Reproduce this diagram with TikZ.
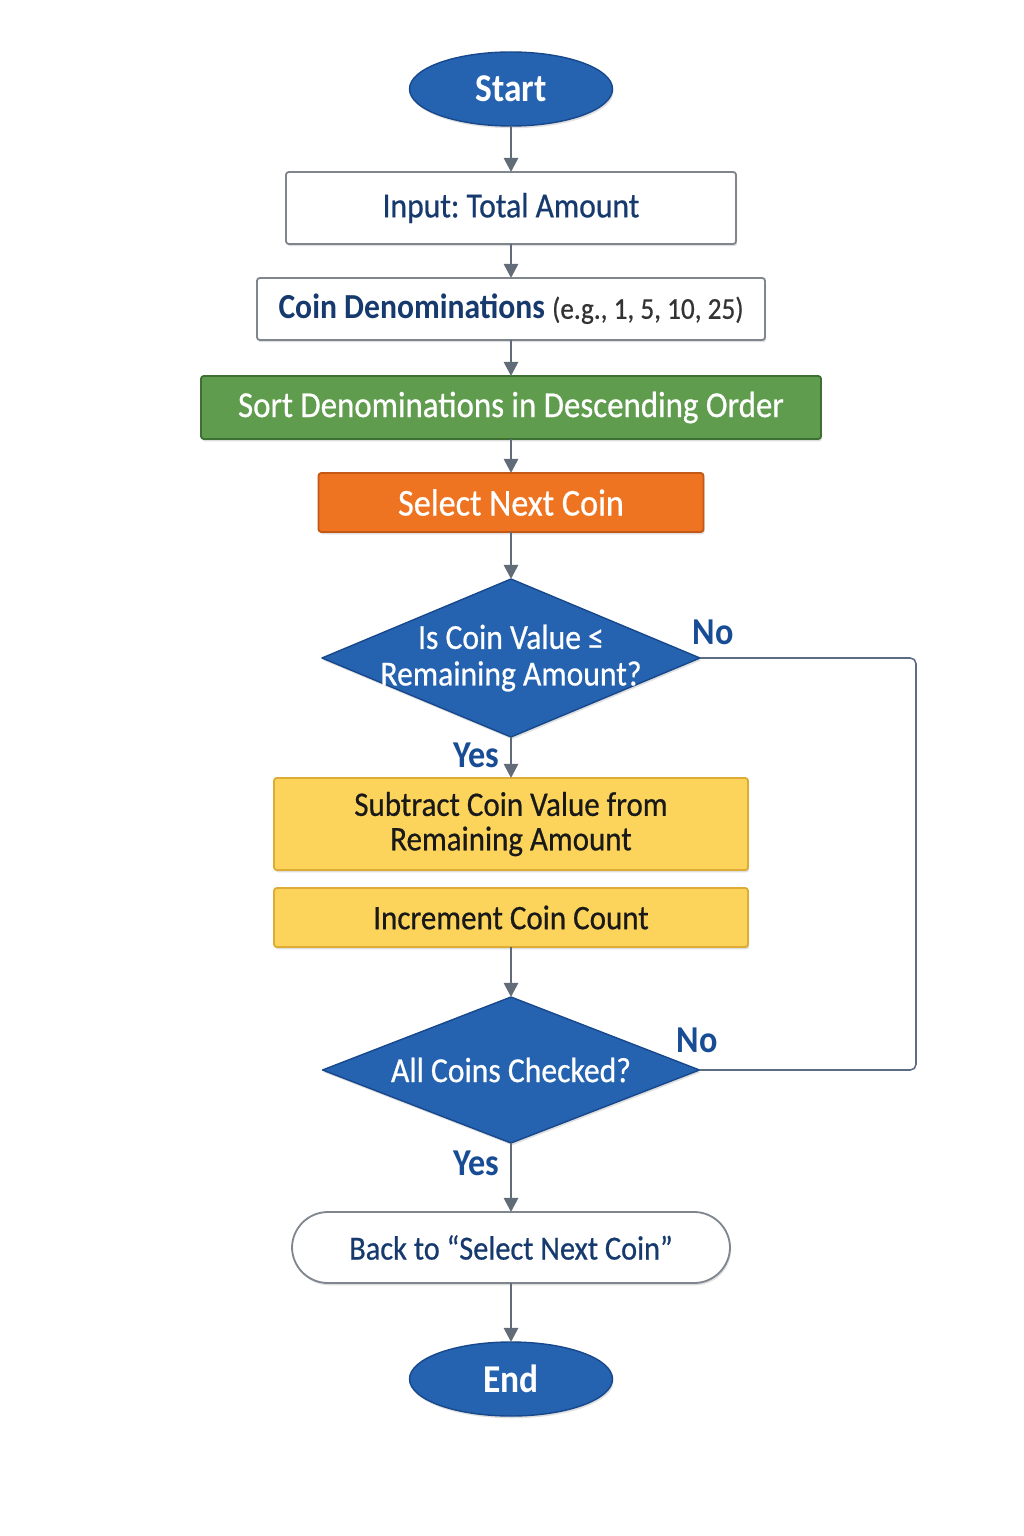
\documentclass[tikz,border=0pt]{standalone}
\usepackage{fontspec}
\setmainfont{Carlito}[FakeStretch=0.9, UprightFeatures={FakeBold=0.6}]
\usetikzlibrary{arrows.meta,shapes.geometric,shadows}

% Palette.
\definecolor{flowblue}{RGB}{37,99,176}
\definecolor{flowblueedge}{RGB}{24,72,140}
\definecolor{inktext}{RGB}{22,58,110}
\definecolor{labelblue}{RGB}{24,76,148}
\definecolor{sortgreen}{RGB}{96,156,78}
\definecolor{sortgreenedge}{RGB}{62,112,52}
\definecolor{pickorange}{RGB}{238,116,34}
\definecolor{pickorangeedge}{RGB}{196,88,22}
\definecolor{stepyellow}{RGB}{252,212,92}
\definecolor{stepyellowedge}{RGB}{222,172,52}
\definecolor{linegray}{RGB}{98,108,120}
\definecolor{boxgray}{RGB}{128,134,142}
\definecolor{loopgray}{RGB}{92,108,132}

% One drawing unit, used for node sizes.
\def\unitpx{0.025cm}

\begin{document}
\frenchspacing
\begin{tikzpicture}[x=0.025cm, y=-0.025cm, line join=round,
  every node/.style={font=\fontsize{25}{25}\selectfont, align=center, inner sep=0pt, outer sep=0pt},
  boxsize/.style 2 args={minimum width=#1*\unitpx, minimum height=#2*\unitpx},
  softshadow/.style={drop shadow={shadow xshift=0.8pt, shadow yshift=-1.6pt, opacity=0.25}},
  flow/.style={draw=linegray, line width=1.9pt, -{Triangle[length=10pt,width=10pt]}},
  loopline/.style={draw=loopgray, line width=1.1pt, rounded corners=4pt},
  terminal/.style={ellipse, fill=flowblue, draw=flowblueedge, line width=1pt, text=white,
    font=\fontsize{28}{28}\selectfont\bfseries, softshadow},
  iobox/.style={rectangle, rounded corners=2pt, fill=white, draw=boxgray, line width=1.3pt,
    text=inktext, softshadow},
  sortbox/.style={rectangle, rounded corners=2pt, fill=sortgreen, draw=sortgreenedge,
    line width=1.3pt, text=white, font=\fontsize{26}{26}\selectfont, softshadow},
  pickbox/.style={rectangle, rounded corners=2pt, fill=pickorange, draw=pickorangeedge,
    line width=1.3pt, text=white, font=\fontsize{27}{27}\selectfont, softshadow},
  stepbox/.style={rectangle, rounded corners=2pt, fill=stepyellow, draw=stepyellowedge,
    line width=1.3pt, text=black!90, font=\fontsize{24.5}{24.5}\selectfont, softshadow},
  decision/.style={diamond, aspect=2.4, inner sep=-20pt, fill=flowblue, draw=flowblueedge,
    line width=1pt, text=white, softshadow},
  yesno/.style={text=labelblue, font=\fontsize{27}{27}\selectfont\bfseries},
]
  % Page.
  \fill[white] (0,0) rectangle (1024,1536);
  \useasboundingbox (0,0) rectangle (1024,1536);

  % Main column of steps.
  \node[terminal, boxsize={203}{74}] (start) at (511,89) {Start};
  \node[iobox, boxsize={450}{72}] (input) at (511,208) {Input: Total Amount};
  \node[iobox, boxsize={508}{62}] (denoms) at (511,309)
    {{\bfseries Coin Denominations} {\color{black!80}\fontsize{21.5}{21.5}\selectfont (e.g., 1, 5, 10, 25)}};
  \node[sortbox, boxsize={620}{63}] (sortd) at (511,407.5) {Sort Denominations in Descending Order};
  \node[pickbox, boxsize={385}{59}] (select) at (511,502.5) {Select Next Coin};
  \node[decision, boxsize={378}{158}] (check) at (511,658) {Is Coin Value ≤\\[1pt]Remaining Amount?};
  \node[stepbox, boxsize={474}{92}] (subtract) at (511,824) {\strut Subtract Coin Value from\\Remaining Amount};
  \node[stepbox, boxsize={474}{59}] (increment) at (511,917.5) {Increment Coin Count};
  \node[decision, boxsize={377}{146}] (alldone) at (511,1070) {All Coins Checked?};
  \node[iobox, rounded corners=36*\unitpx, boxsize={438}{71}, font=\fontsize{24}{24}\selectfont]
    (back) at (511,1247.5) {Back to “Select Next Coin”};
  \node[terminal, boxsize={203}{74}] (stop) at (511,1379) {End};

  % Branch labels.
  \node[yesno] (nocheck) at (713,632) {No};
  \node[yesno] (yescheck) at (476,755) {Yes};
  \node[yesno] (nodone) at (697,1040) {No};
  \node[yesno] (yesdone) at (476,1163) {Yes};

  % Arrows down the column.
  \draw[flow] (start.south) -- (input.north);
  \draw[flow] (input.south) -- (denoms.north);
  \draw[flow] (denoms.south) -- (sortd.north);
  \draw[flow] (sortd.south) -- (select.north);
  \draw[flow] (select.south) -- (check.north);
  \draw[flow] (check.south) -- (subtract.north);
  \draw[flow] (increment.south) -- (alldone.north);
  \draw[flow] (alldone.south) -- (back.north);
  \draw[flow] (back.south) -- (stop.north);

  % The two "No" exits joined along the right side.
  \coordinate (loopcorner) at (916,658);
  \draw[loopline] (check.east) -- (loopcorner) |- (alldone.east);

\end{tikzpicture}
\end{document}
